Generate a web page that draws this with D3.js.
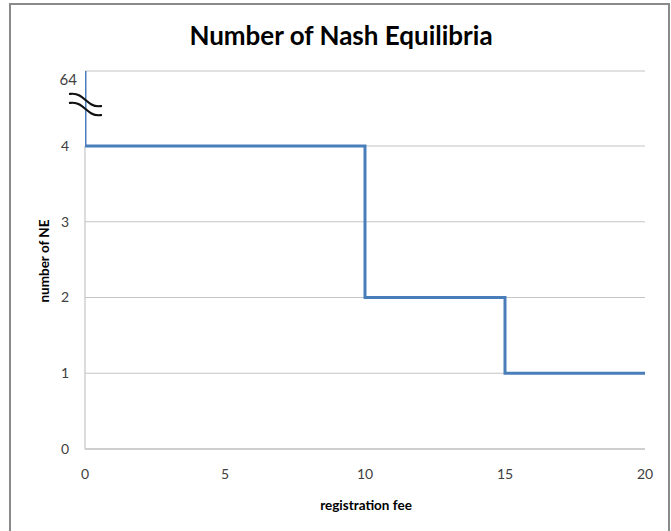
<!DOCTYPE html>
<html>
<head>
<meta charset="utf-8">
<script src="https://cdn.jsdelivr.net/npm/d3@7"></script>
<style>
  body { margin: 0; background: #fff; }
  text { font-family: Lato, "Open Sans", sans-serif; }
</style>
</head>
<body>
<svg width="671" height="531"></svg>
<script>
// registration fee vs number of Nash equilibria (step chart, broken y axis at the top)
let fees = [0, 0, 10, 15, 20]
let numNE = [64, 4, 2, 1, 1]

let xTicks = [0, 5, 10, 15, 20]
let yTicks = [0, 1, 2, 3, 4]
let topTick = 64

const svg = d3.select("svg")

// chart border
svg.append("rect")
    .attr("x", 10).attr("y", 4)
    .attr("width", 659).attr("height", 540)
    .attr("fill", "none")
    .attr("stroke", "#8a8a8a")
    .attr("stroke-width", 2)

const x = d3.scaleLinear()
    .domain([0, 20])
    .range([85, 645])

// piecewise scale so 4..64 squeezes into one band above 4
const y = d3.scaleLinear()
    .domain([0, 4, 64])
    .range([449, 146, 71])

// gridlines
svg.selectAll(".grid")
    .data(yTicks.slice(1).concat([topTick]))
    .enter()
    .append("line")
    .attr("x1", x(0)).attr("x2", x(20))
    .attr("y1", d => y(d)).attr("y2", d => y(d))
    .attr("stroke", "#c4c4c4")
    .attr("stroke-width", 1.2)

// axes lines
svg.append("line")
    .attr("x1", x(0)).attr("x2", x(20))
    .attr("y1", y(0)).attr("y2", y(0))
    .attr("stroke", "#a0a0a0")
    .attr("stroke-width", 1.2)
svg.append("line")
    .attr("x1", x(0)).attr("x2", x(0))
    .attr("y1", y(0)).attr("y2", y(4))
    .attr("stroke", "#c4c4c4")
    .attr("stroke-width", 1.2)

// y tick labels
svg.selectAll(".ylab")
    .data(yTicks)
    .enter()
    .append("text")
    .attr("x", 69)
    .attr("y", d => y(d))
    .attr("dy", "0.35em")
    .attr("text-anchor", "end")
    .attr("font-size", 14)
    .attr("fill", "#404040")
    .text(d => d)

svg.append("text")
    .attr("x", 77)
    .attr("y", y(topTick) + 9)
    .attr("dy", "0.35em")
    .attr("text-anchor", "end")
    .attr("font-size", 15)
    .attr("fill", "#404040")
    .text(topTick)

// x tick labels
svg.selectAll(".xlab")
    .data(xTicks)
    .enter()
    .append("text")
    .attr("x", d => x(d))
    .attr("y", 474)
    .attr("dy", "0.35em")
    .attr("text-anchor", "middle")
    .attr("font-size", 14)
    .attr("fill", "#404040")
    .text(d => d)

// step line, clipped at the plot edge like the original
svg.append("clipPath").attr("id", "plot")
    .append("rect")
    .attr("x", x(0)).attr("y", 60)
    .attr("width", x(20) - x(0) + 4).attr("height", 400)

const line = d3.line()
    .x((d, i) => x(fees[i]))
    .y(d => y(d))
    .curve(d3.curveStepAfter)

svg.append("path")
    .datum(numNE)
    .attr("clip-path", "url(#plot)")
    .attr("d", line)
    .attr("fill", "none")
    .attr("stroke", "#4a7ebb")
    .attr("stroke-width", 3)

// axis break marks
const brk = d3.line().curve(d3.curveBasis)
;[0, 9].forEach(off => {
    svg.append("path")
        .attr("d", brk([[69, 94 + off], [79, 93 + off], [92, 107 + off], [102, 106 + off]]))
        .attr("fill", "none")
        .attr("stroke", "#111")
        .attr("stroke-width", 2.2)
})

// titles
svg.append("text")
    .attr("x", 341)
    .attr("y", 45)
    .attr("text-anchor", "middle")
    .attr("font-size", 26)
    .attr("font-weight", "bold")
    .attr("fill", "#000")
    .text("Number of Nash Equilibria")

svg.append("text")
    .attr("x", 366)
    .attr("y", 505)
    .attr("dy", "0.35em")
    .attr("text-anchor", "middle")
    .attr("font-size", 13.5)
    .attr("font-weight", "bold")
    .attr("fill", "#000")
    .text("registration fee")

svg.append("text")
    .attr("transform", "translate(44,261) rotate(-90)")
    .attr("dy", "0.35em")
    .attr("text-anchor", "middle")
    .attr("font-size", 13.5)
    .attr("font-weight", "bold")
    .attr("fill", "#000")
    .text("number of NE")
</script>
</body>
</html>
